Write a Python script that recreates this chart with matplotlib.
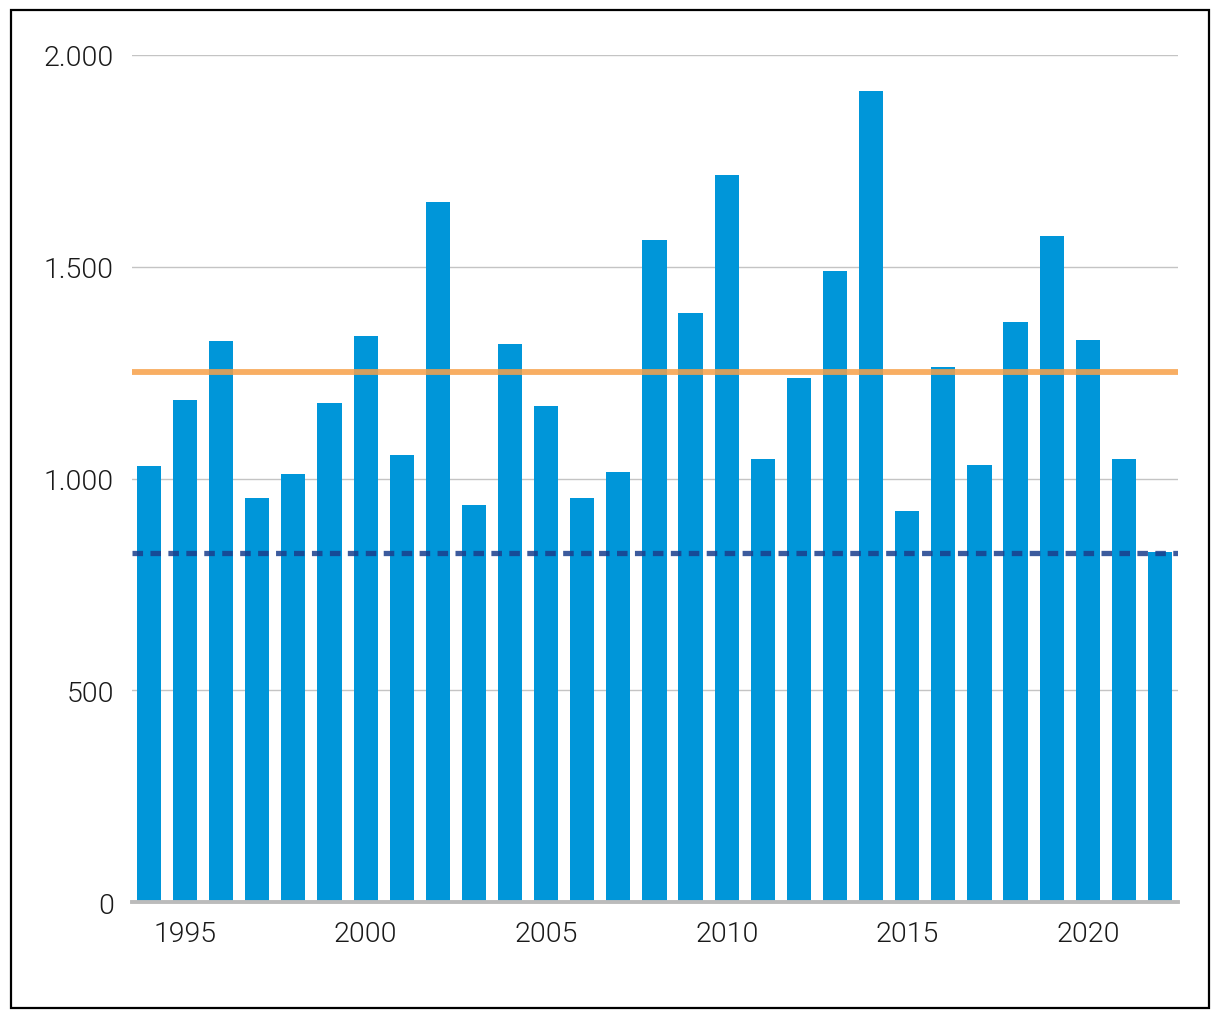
import matplotlib
matplotlib.use("Agg")
import matplotlib.pyplot as plt
from matplotlib.patches import Rectangle
from matplotlib.ticker import FuncFormatter

years = list(range(1994, 2023))
values = [1029, 1185, 1325, 954, 1011, 1178, 1336, 1055, 1653, 937,
          1318, 1171, 954, 1015, 1563, 1391, 1717, 1046, 1237, 1490,
          1915, 923, 1263, 1032, 1370, 1573, 1327, 1046, 826]
average_line = 1251
dashed_line = 824
x_ticks = [1995, 2000, 2005, 2010, 2015, 2020]
y_ticks = [0, 500, 1000, 1500, 2000]

plt.rcParams['font.family'] = ['Roboto', 'DejaVu Sans']

fig = plt.figure(figsize=(12.2, 10.2), dpi=100)
ax = fig.add_axes([0.1082, 0.1147, 0.8574, 0.8304])

ax.bar(years, values, width=0.67, color='#0096D9', zorder=2)
ax.axhline(average_line, color='#F7A048', lw=4.2, alpha=0.85, zorder=3)
ax.axhline(dashed_line, color='#1A3E8C', lw=3.8, alpha=0.85,
           dashes=(2.0, 1.4), zorder=3)

ax.set_xlim(1994 - 0.47, 2022 + 0.5)
ax.set_ylim(0, 2000)
ax.set_xticks(x_ticks)
ax.set_yticks(y_ticks)
ax.yaxis.set_major_formatter(FuncFormatter(lambda v, p: f"{int(v):,}".replace(",", ".")))
ax.tick_params(axis='both', length=0, labelsize=20.5, colors='#1a1a1a')
ax.tick_params(axis='y', pad=13)
ax.tick_params(axis='x', pad=13)
for lbl in ax.get_xticklabels() + ax.get_yticklabels():
    lbl.set_fontweight(300)
ax.grid(axis='y', color='#c4c4c4', lw=1.0, zorder=0)
ax.set_axisbelow(True)
for s in ['top', 'right', 'left']:
    ax.spines[s].set_visible(False)
ax.spines['bottom'].set_color('#bbbbbb')
ax.spines['bottom'].set_linewidth(2.8)
ax.spines['bottom'].set_zorder(4)

# Rahmen um die ganze Grafik
fig.patches.append(Rectangle((11 / 1220, 11 / 1020), 1198 / 1220, 998 / 1020,
                             transform=fig.transFigure, fill=False,
                             edgecolor='black', lw=1.6))

fig.savefig("out.png", dpi=100)
